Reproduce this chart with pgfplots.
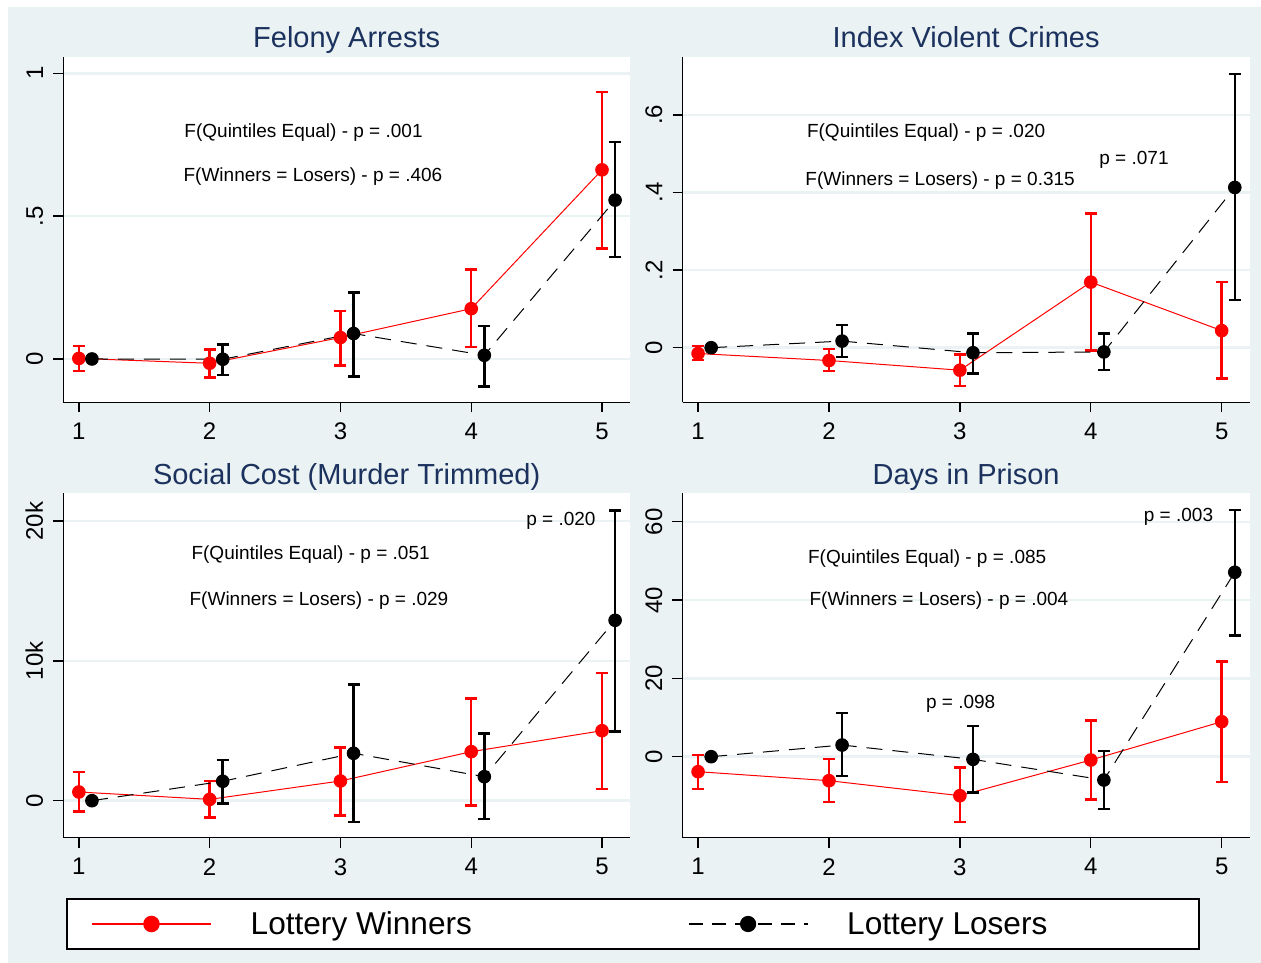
\documentclass[border=0pt]{standalone}
\usepackage{pgfplots}
\pgfplotsset{compat=1.18}
\usepackage{fontspec}
\setmainfont{Liberation Sans}
\definecolor{bgc}{RGB}{234,242,243}
\definecolor{ttl}{RGB}{28,50,94}
\tikzset{ann/.style={font=\fontsize{19}{22}\selectfont, anchor=base, inner sep=0pt}}
\pgfplotsset{
  panel/.style={
    scale only axis,
    axis background/.style={fill=white},
    axis x line*=bottom, axis y line*=left,
    axis line style={line width=1.5pt, black},
    xmin=0.881, xmax=5.214,
    xtick={1,2,3,4,5}, xticklabels={1,2,3,4,5},
    tick align=outside, major tick length=10pt,
    every tick/.style={line width=1.3pt, black},
    xticklabel style={font=\fontsize{24}{28}\selectfont, anchor=north, inner sep=0pt, yshift=-10.4pt},
    yticklabel style={font=\fontsize{24}{28}\selectfont, xshift=-10pt, rotate=90, anchor=south, inner sep=0pt},
    ymajorgrids, grid style={bgc, line width=2.5pt},
    title style={font=\fontsize{29}{34}\selectfont, color=ttl, at={(0.5,1)}, anchor=base, yshift=3pt},
    scaled y ticks=false,
    clip=false,
  },
  win/.style={red, line width=1pt, mark=*, mark size=6.3pt, mark options={solid, fill=red},
     error bars/y dir=both, error bars/y explicit,
     error bars/error bar style={solid, line width=2.5pt, red},
     error bars/error mark options={solid, rotate=90, line width=2.5pt, mark size=6pt, red}},
  los/.style={black, line width=1pt, dash pattern=on 16pt off 10pt, mark=*, mark size=6.3pt, mark options={solid, fill=black},
     error bars/y dir=both, error bars/y explicit,
     error bars/error bar style={solid, line width=2.5pt, black},
     error bars/error mark options={solid, rotate=90, line width=2.5pt, mark size=6pt, black}},
  legend image code/.code={\draw[mark repeat=2,mark phase=2,#1] plot coordinates {(0pt,0pt) (59.5pt,0pt) (119pt,0pt)};},
}
\begin{document}
\begin{tikzpicture}
\useasboundingbox (0,0) rectangle (1261pt,963pt);
\fill[white] (0,0) rectangle (1261pt,963pt);
\fill[bgc] (8pt,0pt) rectangle (1261pt,956pt);

% Panel 1
\begin{axis}[panel, at={(63.3pt,560.7pt)}, anchor=south west, width=566.7pt, height=345.6pt,
  ymin=-0.1516, ymax=1.058, ytick={0,0.5,1}, yticklabels={0,.5,1}, title={Felony Arrests}]
\addplot[win] table[x=x,y=y,y error plus=ep,y error minus=em]{
x y ep em
1 0.002 0.043 0.044
2 -0.015 0.049 0.049
3 0.075 0.093 0.097
4 0.176 0.138 0.134
5 0.662 0.273 0.275
};
\addplot[los] table[x=x,y=y,y error plus=ep,y error minus=em]{
x y ep em
1.1 0 0 0
2.1 -0.001 0.052 0.055
3.1 0.089 0.144 0.150
4.1 0.013 0.102 0.109
5.1 0.556 0.204 0.199
};
\node[ann] at (axis cs:2.718,0.7735) {F(Quintiles Equal) - p = .001};
\node[ann] at (axis cs:2.790,0.6206) {F(Winners = Losers) - p = .406};
\end{axis}

% Panel 2
\begin{axis}[panel, at={(682.5pt,560.7pt)}, anchor=south west, width=567.2pt, height=345.6pt,
  ymin=-0.1407, ymax=0.75, ytick={0,0.2,0.4,0.6}, yticklabels={0,.2,.4,.6}, title={Index Violent Crimes}]
\addplot[win] table[x=x,y=y,y error plus=ep,y error minus=em]{
x y ep em
1 -0.015 0.019 0.017
2 -0.033 0.029 0.027
3 -0.058 0.041 0.041
4 0.169 0.177 0.176
5 0.044 0.125 0.123
};
\addplot[los] table[x=x,y=y,y error plus=ep,y error minus=em]{
x y ep em
1.1 0 0 0
2.1 0.017 0.041 0.041
3.1 -0.013 0.050 0.053
4.1 -0.011 0.047 0.046
5.1 0.413 0.293 0.290
};
\node[ann] at (axis cs:2.742,0.5405) {F(Quintiles Equal) - p = .020};
\node[ann] at (axis cs:2.849,0.4168) {F(Winners = Losers) - p = 0.315};
\node[ann] at (axis cs:4.33,0.4709) {p = .071};
\end{axis}

% Panel 3
\begin{axis}[panel, at={(63.3pt,125.3pt)}, anchor=south west, width=566.7pt, height=344.4pt,
  ymin=-2647, ymax=21989, ytick={0,10000,20000}, yticklabels={0,10k,20k}, title={Social Cost (Murder Trimmed)}]
\addplot[win] table[x=x,y=y,y error plus=ep,y error minus=em]{
x y ep em
1 622 1431 1380
2 95 1314 1311
3 1409 2382 2458
4 3505 3815 3839
5 5007 4128 4170
};
\addplot[los] table[x=x,y=y,y error plus=ep,y error minus=em]{
x y ep em
1.1 0 0 0
2.1 1388 1523 1574
3.1 3390 4908 4916
4.1 1717 3076 3028
5.1 12904 7866 7968
};
\node[ann] at (axis cs:4.686,19650) {p = .020};
\node[ann] at (axis cs:2.772,17218) {F(Quintiles Equal) - p = .051};
\node[ann] at (axis cs:2.836,13927) {F(Winners = Losers) - p = .029};
\end{axis}

\draw[line width=1.5pt, fill=white] (67pt,14pt) rectangle (1199pt,64pt);

% Panel 4
\begin{axis}[panel, at={(682.5pt,125.3pt)}, anchor=south west, width=567.2pt, height=344.4pt,
  ymin=-20.69, ymax=67.28, ytick={0,20,40,60}, yticklabels={0,20,40,60}, title={Days in Prison},
  legend columns=2, legend cell align=left,
  legend style={at={(-1.0428,-0.2506)}, anchor=west, draw=none, fill=none, inner sep=0pt,
    font=\fontsize{31.6}{36}\selectfont, nodes={inner sep=0pt},
    /tikz/every odd column/.append style={column sep=39pt},
    /tikz/every even column/.append style={column sep=216pt}}]
\addplot[win, forget plot] table[x=x,y=y,y error plus=ep,y error minus=em]{
x y ep em
1 -3.83 4.26 4.47
2 -6.13 5.53 5.47
3 -9.96 7.26 6.74
4 -0.85 10.05 10.05
5 8.94 15.36 15.34
};
\addplot[los, forget plot] table[x=x,y=y,y error plus=ep,y error minus=em]{
x y ep em
1.1 0 0 0
2.1 2.98 8.22 7.88
3.1 -0.68 8.48 8.42
4.1 -5.96 7.41 7.34
5.1 47.1 15.9 16.1
};
\node[ann] at (axis cs:4.670,60.2) {p = .003};
\node[ann] at (axis cs:2.750,49.4) {F(Quintiles Equal) - p = .085};
\node[ann] at (axis cs:2.840,38.5) {F(Winners = Losers) - p = .004};
\node[ann] at (axis cs:3.006,12.2) {p = .098};
\addlegendimage{red, line width=1.5pt, mark=*, mark size=7.5pt, mark options={solid, fill=red}}
\addlegendentry{Lottery Winners}
\addlegendimage{black, line width=1.2pt, dash pattern=on 14pt off 9pt, mark=*, mark size=7.5pt, mark options={solid, fill=black}}
\addlegendentry{Lottery Losers}
\end{axis}
\end{tikzpicture}
\end{document}
